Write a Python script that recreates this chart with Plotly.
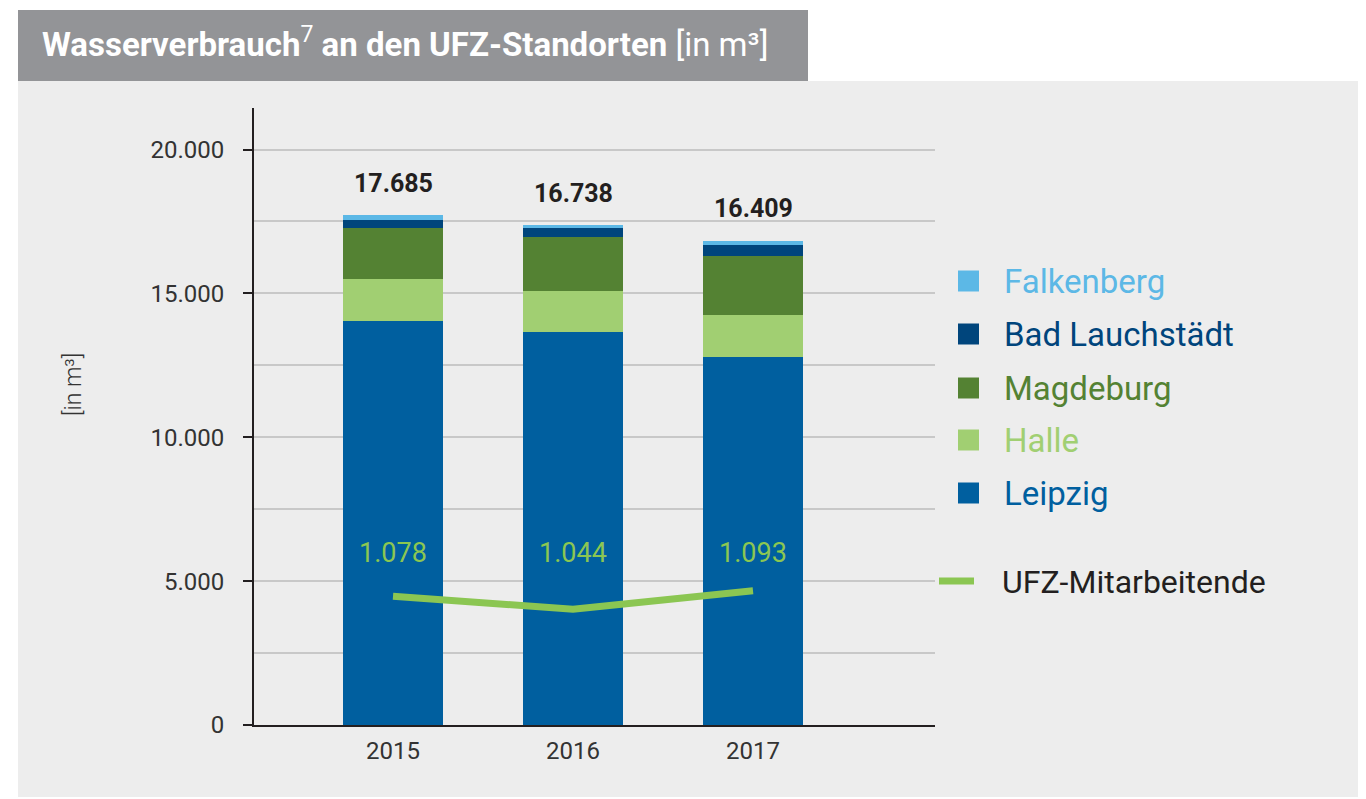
import plotly.graph_objects as go

# ---------------- data ----------------
years = ["2015", "2016", "2017"]
leipzig = [14057, 13675, 12806]
halle = [1460, 1425, 1460]
magdeburg = [1738, 1842, 2050]
bad_lauchstaedt = [278, 313, 382]
falkenberg = [174, 104, 139]
total_labels = ["17.685", "16.738", "16.409"]
mitarbeitende = [1078, 1044, 1093]
mitarbeitende_labels = ["1.078", "1.044", "1.093"]
y_tickvals = [0, 5000, 10000, 15000, 20000]
y_ticktext = ["0", "5.000", "10.000", "15.000", "20.000"]

series_names = ["Leipzig", "Halle", "Magdeburg", "Bad Lauchstädt", "Falkenberg"]
series_values = [leipzig, halle, magdeburg, bad_lauchstaedt, falkenberg]
series_colors = ["#005f9f", "#a1cf72", "#548233", "#00457c", "#5cb8e6"]
line_name = "UFZ-Mitarbeitende"
line_color = "#8bc652"

# ---------------- layout helpers (page pixel coordinates) ----------------
PAGE_OFF = 8          # default body margin of the html page
W, H = 1366 - PAGE_OFF, 799 - PAGE_OFF
L, R, T, B = 254, 935, 108, 725   # plot area in page pixels


def px_x(px):
    return (px - L) / (R - L)


def px_y(py):
    return (B - py) / (B - T)


FONT = "Roboto"

fig = go.Figure()
for name, vals, col in zip(series_names, series_values, series_colors):
    fig.add_trace(go.Bar(x=years, y=vals, name=name, marker=dict(color=col, line=dict(width=0)),
                         width=0.56, showlegend=False))

fig.add_trace(go.Scatter(x=years, y=mitarbeitende, yaxis="y2", mode="lines",
                         line=dict(color=line_color, width=7), name=line_name, showlegend=False))

annotations = []
# totals above bars
for i, yr in enumerate(years):
    s = sum(v[i] for v in series_values)
    annotations.append(dict(x=i, y=s, xref="x", yref="y", text="<b>%s</b>" % total_labels[i],
                            showarrow=False, yanchor="middle", yshift=32,
                            font=dict(family=FONT, size=25, color="#231f20")))
# employee labels
for i, yr in enumerate(years):
    annotations.append(dict(x=i, y=px_y(553), xref="x", yref="paper", text=mitarbeitende_labels[i],
                            showarrow=False, yanchor="middle",
                            font=dict(family=FONT, size=27, color=line_color)))

# title
annotations.append(dict(x=px_x(40), y=px_y(43), xref="paper", yref="paper", xanchor="left", yanchor="middle",
                        text="<b>Wasserverbrauch</b><sup>7</sup><b> an den UFZ-Standorten</b> [in m³]",
                        showarrow=False, font=dict(family=FONT, size=33, color="white")))
# y-axis title
annotations.append(dict(x=px_x(73), y=px_y(385), xref="paper", yref="paper", text="[in m³]",
                        textangle=-90, showarrow=False, xanchor="center", yanchor="middle",
                        font=dict(family=FONT, size=23, color="#333333", weight=300)))

shapes = [
    dict(type="rect", xref="paper", yref="paper", x0=px_x(18), x1=px_x(1363), y0=px_y(797), y1=px_y(81),
         fillcolor="#ededed", line=dict(width=0), layer="below"),
    dict(type="rect", xref="paper", yref="paper", x0=px_x(18), x1=px_x(808), y0=px_y(81), y1=px_y(10),
         fillcolor="#939497", line=dict(width=0), layer="below"),
]

# custom legend
legend_rows = [("Falkenberg", 281), ("Bad Lauchstädt", 334), ("Magdeburg", 388), ("Halle", 440), ("Leipzig", 493)]
color_of = dict(zip(series_names, series_colors))
for name, yc in legend_rows:
    c = color_of[name]
    shapes.append(dict(type="rect", xref="paper", yref="paper", x0=px_x(958), x1=px_x(979),
                       y0=px_y(yc + 10.5), y1=px_y(yc - 10.5), fillcolor=c, line=dict(width=0)))
    annotations.append(dict(x=px_x(1002), y=px_y(yc), xref="paper", yref="paper", xanchor="left",
                            yanchor="middle", text=name, showarrow=False,
                            font=dict(family=FONT, size=33, color=c, weight=400)))
shapes.append(dict(type="line", xref="paper", yref="paper", x0=px_x(939), x1=px_x(974),
                   y0=px_y(581), y1=px_y(581), line=dict(color=line_color, width=7)))
annotations.append(dict(x=px_x(1000), y=px_y(582), xref="paper", yref="paper", xanchor="left",
                        yanchor="middle", text=line_name, showarrow=False,
                        font=dict(family=FONT, size=32, color="#231f20", weight=400)))

y_per_px = 20000 / 575.5
fig.update_layout(
    width=W, height=H,
    margin=dict(l=L - PAGE_OFF, r=W - (R - PAGE_OFF), t=T - PAGE_OFF, b=H - (B - PAGE_OFF), autoexpand=False),
    paper_bgcolor="white", plot_bgcolor="rgba(0,0,0,0)",
    barmode="stack",
    xaxis=dict(type="category", range=[(L - 393) / 180, (R - 393) / 180], showgrid=False,
               showline=True, linecolor="#231f20", linewidth=2, ticks="",
               tickfont=dict(family=FONT, size=24, color="#333333"), ticklabelstandoff=3,
               zeroline=False),
    yaxis=dict(range=[0, (B - T) * y_per_px], tickvals=y_tickvals, ticktext=y_ticktext,
               showgrid=True, gridcolor="#c8c8c8", gridwidth=1.5,
               minor=dict(dtick=2500, showgrid=True, gridcolor="#c8c8c8", gridwidth=1.5, ticks=""),
               showline=True, linecolor="#231f20", linewidth=2, ticks="outside", ticklen=9,
               tickwidth=2, tickcolor="#231f20", ticklabelstandoff=14,
               tickfont=dict(family=FONT, size=24, color="#333333"), zeroline=False),
    yaxis2=dict(overlaying="y", range=[737, 2372], visible=False, showgrid=False),
    shapes=shapes, annotations=annotations, showlegend=False,
)

fig.write_html("out.html")
